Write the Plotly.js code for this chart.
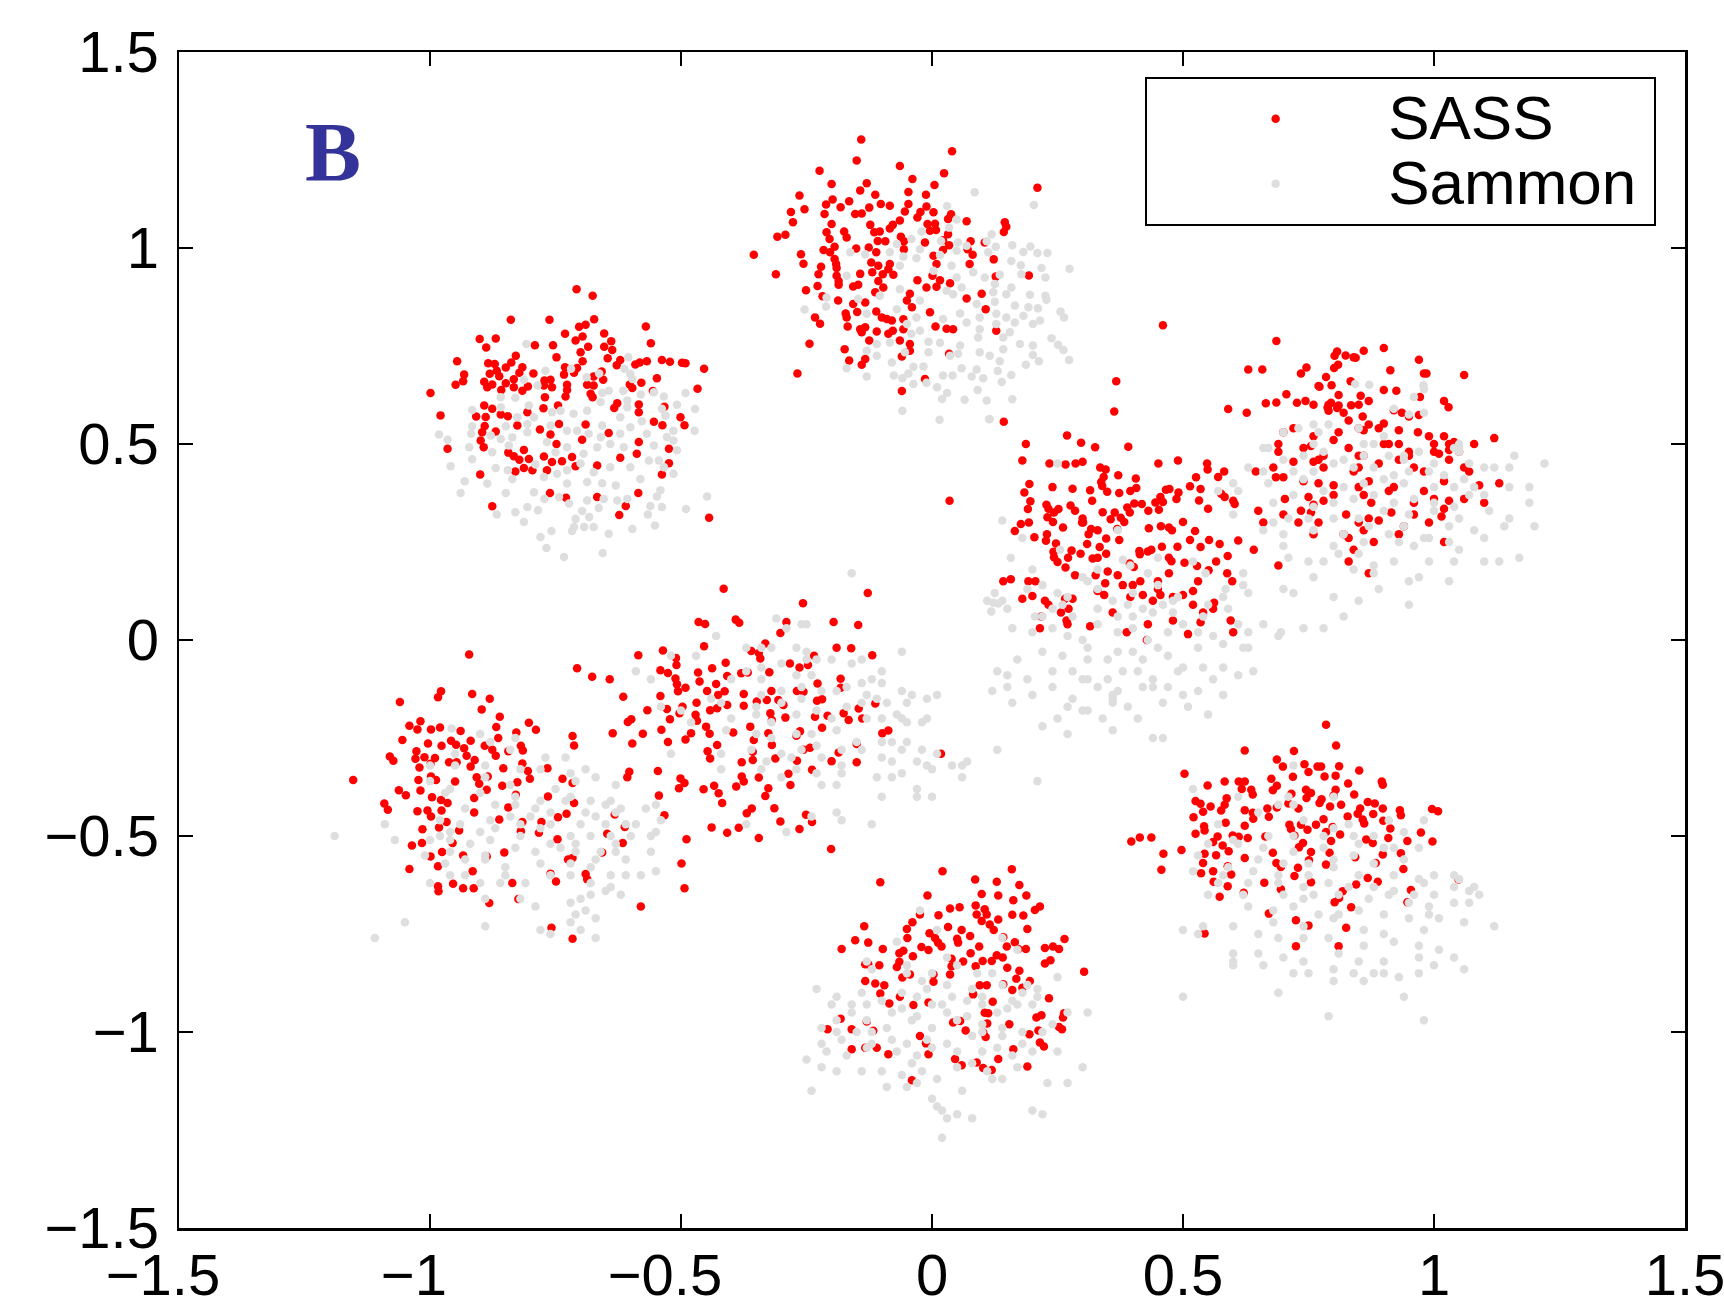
<!DOCTYPE html>
<html><head><meta charset="utf-8"><script src="https://cdn.plot.ly/plotly-3.0.1.min.js"></script>
<style>html,body{margin:0;padding:0;background:#fff;overflow:hidden}</style></head><body><div id="chart"></div>
<script>
const tickValues=[-1.5,-1,-0.5,0,0.5,1,1.5];
const xTickLabels=["\u22121.5\u00A0\u00A0","\u22121\u00A0\u00A0","\u22120.5\u00A0\u00A0","0","0.5","1","1.5"];
const yTickLabels=["\u22121.5","\u22121","\u22120.5","0","0.5","1","1.5"];
const sassUpperLeft=[[-.708,.895],[-.676,.878],[-.839,.817],[-.762,.817],[-.673,.818],[-.69,.804],[-.703,.799],[-.57,.8],[-.731,.781],[-.653,.782],[-.696,.774],[-.901,.768],[-.869,.769],[-.71,.764],[-.639,.762],[-.791,.752],[-.755,.752],[-.888,.746],[-.56,.757],[-.653,.748],[-.685,.748],[-.7,.734],[-.637,.74],[-.829,.725],[-.748,.721],[-.646,.719],[-.946,.711],[-.884,.706],[-.871,.704],[-.838,.708],[-.696,.711],[-.621,.714],[-.628,.701],[-.591,.703],[-.582,.708],[-.568,.711],[-.538,.714],[-.522,.71],[-.498,.707],[-.491,.706],[-.454,.692],[-.849,.695],[-.816,.696],[-.731,.696],[-.707,.694],[-.867,.687],[-.822,.682],[-.881,.679],[-.932,.677],[-.862,.673],[-.794,.68],[-.733,.677],[-.713,.682],[-.658,.685],[-.548,.668],[-.934,.66],[-.892,.659],[-.833,.665],[-.772,.662],[-.76,.664],[-.674,.672],[-.655,.664],[-.949,.651],[-.876,.652],[-.849,.655],[-.805,.647],[-.773,.649],[-.727,.651],[-.687,.651],[-.674,.649],[-.602,.652],[-.579,.656],[-.467,.641],[-.999,.63],[-.886,.645],[-.858,.638],[-.833,.645],[-.816,.636],[-.757,.645],[-.727,.638],[-.597,.643],[-.556,.635],[-.771,.619],[-.73,.621],[-.68,.628],[-.676,.619],[-.892,.598],[-.876,.59],[-.774,.591],[-.745,.598],[-.627,.604],[-.584,.601],[-.533,.595],[-.633,.592],[-.584,.581],[-.979,.573],[-.908,.57],[-.889,.569],[-.859,.575],[-.845,.571],[-.501,.568],[-.806,.581],[-.554,.557],[-.537,.548],[-.493,.548],[-.826,.547],[-.891,.546],[-.743,.551],[-.69,.55],[-.896,.53],[-.869,.532],[-.781,.537],[-.76,.524],[-.644,.528],[-.899,.509],[-.697,.511],[-.748,.5],[-.584,.505],[-.965,.488],[-.893,.492],[-.813,.485],[-.524,.488],[-.844,.478],[-.833,.469],[-.822,.46],[-.803,.462],[-.773,.468],[-.717,.467],[-.757,.454],[-.737,.456],[-.621,.465],[-.588,.475],[-.524,.451],[-.83,.43],[-.813,.439],[-.796,.433],[-.767,.433],[-.71,.443],[-.667,.445],[-.9,.422],[-.538,.422],[-.585,.375],[-.761,.375],[-.729,.363],[-.667,.365],[-.876,.341],[-.61,.342],[-.623,.319],[-.444,.312]];
const sammonUpperLeft=[[-.808,.755],[-.77,.687],[-.813,.664],[-.719,.692],[-.605,.721],[-.613,.692],[-.601,.679],[-.597,.666],[-.688,.67],[-.663,.68],[-.786,.649],[-.859,.619],[-.83,.618],[-.644,.636],[-.657,.63],[-.615,.636],[-.58,.626],[-.554,.632],[-.534,.621],[-.491,.63],[-.508,.6],[-.472,.589],[-.473,.534],[-.531,.573],[-.538,.59],[-.607,.594],[-.859,.594],[-.916,.587],[-.803,.598],[-.74,.585],[-.714,.577],[-.757,.581],[-.687,.585],[-.66,.607],[-.607,.611],[-.657,.547],[-.621,.568],[-.601,.543],[-.578,.558],[-.826,.568],[-.793,.568],[-.76,.547],[-.806,.551],[-.849,.545],[-.916,.545],[-.918,.526],[-.982,.524],[-.965,.511],[-.879,.522],[-.859,.513],[-.836,.517],[-.806,.53],[-.727,.534],[-.707,.534],[-.684,.526],[-.66,.517],[-.621,.526],[-.568,.526],[-.528,.518],[-.515,.534],[-.922,.492],[-.916,.461],[-.959,.443],[-.876,.479],[-.843,.496],[-.767,.505],[-.75,.479],[-.727,.492],[-.694,.475],[-.667,.492],[-.641,.5],[-.614,.492],[-.554,.496],[-.508,.484],[-.515,.509],[-.869,.439],[-.845,.433],[-.79,.448],[-.747,.424],[-.727,.433],[-.7,.45],[-.674,.428],[-.641,.441],[-.601,.441],[-.564,.458],[-.544,.458],[-.534,.441],[-.515,.424],[-.931,.405],[-.939,.375],[-.886,.399],[-.836,.411],[-.773,.416],[-.727,.399],[-.687,.403],[-.657,.4],[-.63,.394],[-.581,.411],[-.541,.382],[-.849,.375],[-.793,.377],[-.772,.36],[-.743,.365],[-.687,.356],[-.654,.36],[-.627,.356],[-.607,.36],[-.548,.366],[-.448,.366],[-.561,.342],[-.538,.339],[-.49,.334],[-.867,.32],[-.83,.326],[-.806,.339],[-.785,.331],[-.723,.348],[-.664,.337],[-.697,.329],[-.566,.32],[-.683,.314],[-.71,.309],[-.813,.301],[-.552,.292],[-.713,.288],[-.693,.288],[-.674,.288],[-.758,.278],[-.78,.263],[-.717,.278],[-.644,.271],[-.597,.283],[-.768,.235],[-.656,.222],[-.733,.212]];
const sassTop=[[-.141,1.277],[.04,1.247],[-.15,1.223],[-.064,1.209],[-.224,1.197],[.024,1.191],[-.039,1.176],[-.2,1.163],[-.13,1.165],[.005,1.161],[.21,1.154],[-.143,1.147],[-.047,1.143],[-.113,1.136],[-.264,1.134],[-.012,1.136],[-.198,1.124],[-.211,1.111],[-.165,1.119],[-.182,1.104],[-.254,1.099],[-.281,1.092],[-.214,1.087],[-.125,1.103],[-.102,1.112],[-.084,1.108],[-.047,1.112],[-.011,1.106],[-.153,1.087],[-.14,1.088],[-.054,1.093],[-.023,1.092],[.003,1.091],[.038,1.086],[-.029,1.078],[-.277,1.066],[-.2,1.061],[-.123,1.059],[-.064,1.07],[.032,1.074],[.069,1.068],[-.078,1.059],[-.084,1.05],[-.009,1.061],[.006,1.062],[.145,1.066],[.148,1.054],[.143,1.041],[-.292,1.034],[-.308,1.029],[-.21,1.04],[-.204,1.023],[-.175,1.042],[-.17,1.027],[-.115,1.04],[-.104,1.042],[-.004,1.044],[.008,1.046],[-.062,1.029],[.032,1.035],[-.108,1.018],[-.093,1.017],[-.056,1.017],[-.014,1.014],[.022,1.02],[.077,1.017],[.105,1.014],[-.216,.995],[-.194,1.003],[-.151,.999],[-.126,1.001],[-.203,.989],[-.111,.989],[-.056,.997],[.034,1.007],[.022,.995],[.071,.997],[-.355,.983],[-.261,.984],[-.194,.972],[.081,.983],[.003,.98],[-.256,.96],[.123,.971],[-.191,.959],[-.121,.963],[-.107,.955],[-.084,.959],[.009,.959],[-.221,.952],[-.19,.949],[-.087,.946],[.075,.959],[-.311,.933],[-.226,.933],[-.143,.934],[-.119,.938],[-.098,.933],[-.077,.932],[-.19,.929],[.001,.929],[.193,.93],[-.186,.916],[-.186,.906],[-.107,.916],[-.029,.918],[.016,.918],[.036,.91],[-.157,.902],[-.147,.906],[-.228,.903],[-.097,.899],[-.011,.899],[.009,.901],[-.251,.892],[.099,.883],[.069,.871],[-.113,.887],[-.044,.883],[-.187,.866],[-.218,.877],[-.133,.861],[-.157,.857],[-.05,.866],[-.149,.837],[-.111,.838],[-.04,.849],[-.172,.833],[-.004,.836],[-.1,.823],[-.09,.819],[-.17,.823],[-.233,.823],[-.223,.807],[-.08,.815],[-.057,.818],[-.168,.8],[-.143,.793],[-.133,.798],[-.14,.785],[-.11,.787],[-.078,.789],[-.057,.793],[.007,.8],[.029,.794],[.042,.793],[-.087,.781],[-.125,.764],[-.244,.756],[-.064,.764],[-.044,.755],[-.174,.742],[-.044,.738],[-.06,.723],[-.165,.713],[-.133,.717],[-.14,.702],[-.268,.68],[-.014,.666],[-.06,.635],[.128,.789],[.127,.927],[.107,.844],[.034,.73]];
const sammonTop=[[.085,1.142],[.203,1.11],[.03,1.107],[.049,1.073],[.034,1.052],[.119,1.035],[-.021,1.042],[-.041,1.023],[.018,1.018],[-.07,1.01],[.052,1.014],[.109,1.017],[.16,1.007],[.196,1.004],[.127,1.003],[.182,.99],[.21,.987],[.23,.987],[-.163,.989],[-.133,.984],[-.084,.989],[-.024,.997],[.016,.982],[.049,.993],[.069,1.006],[.112,.989],[-.057,.978],[-.031,.974],[.039,.955],[.158,.967],[.177,.956],[.218,.949],[.274,.947],[-.17,.929],[-.064,.955],[.003,.942],[.049,.925],[.178,.933],[.226,.925],[.082,.938],[.125,.908],[.135,.932],[.059,.899],[.158,.899],[.105,.925],[-.21,.874],[-.254,.843],[-.211,.851],[-.147,.87],[-.104,.878],[-.064,.895],[.029,.891],[.122,.887],[.148,.882],[.195,.881],[.226,.878],[.228,.868],[-.13,.832],[-.07,.844],[-.024,.866],[.042,.882],[.089,.857],[.125,.863],[.165,.853],[.211,.846],[.192,.849],[.256,.838],[.263,.823],[-.05,.806],[-.031,.823],[.056,.833],[.095,.823],[.128,.832],[.148,.823],[.182,.827],[.215,.815],[.201,.806],[-.024,.789],[.022,.819],[.069,.81],[.095,.793],[.128,.806],[.165,.81],[-.11,.755],[-.084,.759],[-.041,.781],[-.007,.761],[.016,.758],[.056,.751],[.092,.772],[.142,.772],[.155,.785],[.238,.77],[.251,.753],[.262,.74],[-.13,.738],[-.11,.725],[-.054,.734],[-.007,.734],[.052,.73],[.095,.734],[.115,.725],[.142,.742],[.175,.755],[.201,.751],[.201,.727],[.213,.711],[.273,.714],[-.17,.693],[-.08,.708],[-.037,.697],[-.017,.698],[.036,.725],[.135,.711],[.187,.702],[-.13,.672],[-.076,.675],[-.047,.68],[-.059,.668],[.022,.675],[.041,.675],[.059,.693],[.089,.69],[.079,.672],[.131,.686],[.158,.676],[-.037,.653],[-.011,.656],[.102,.668],[.139,.658],[.01,.645],[.091,.638],[.03,.63],[.16,.614],[.02,.615],[.065,.613],[-.059,.585],[.015,.562],[.115,.564]];
const sassMiddleRight=[[.367,.66],[.46,.803],[.143,.557],[.363,.583],[.269,.522],[.297,.503],[.325,.492],[.391,.493],[.187,.5],[.18,.458],[.234,.45],[.266,.448],[.286,.45],[.3,.455],[.335,.44],[.346,.435],[.451,.45],[.49,.458],[.548,.45],[.549,.435],[.342,.416],[.337,.403],[.371,.42],[.406,.412],[.407,.388],[.526,.415],[.57,.416],[.582,.43],[.24,.39],[.194,.398],[.28,.386],[.315,.382],[.339,.393],[.349,.378],[.373,.375],[.395,.38],[.473,.385],[.514,.392],[.491,.376],[.466,.383],[.455,.365],[.46,.352],[.535,.385],[.603,.347],[.184,.376],[.196,.354],[.191,.334],[.177,.296],[.193,.3],[.165,.278],[.23,.313],[.232,.335],[.228,.345],[.243,.325],[.261,.287],[.252,.334],[.276,.343],[.285,.33],[.319,.355],[.34,.326],[.356,.308],[.376,.312],[.389,.338],[.403,.348],[.418,.347],[.431,.33],[.452,.332],[.487,.36],[.445,.351],[.532,.356],[.55,.335],[.576,.373],[.583,.365],[.241,.301],[.299,.3],[.3,.31],[.301,.3],[.317,.283],[.312,.27],[.33,.28],[.369,.283],[.383,.301],[.364,.325],[.394,.325],[.432,.285],[.456,.29],[.472,.287],[.478,.28],[.552,.255],[.524,.278],[.5,.301],[.514,.255],[.573,.245],[.61,.254],[.229,.27],[.247,.246],[.204,.262],[.227,.253],[.242,.225],[.243,.211],[.25,.199],[.278,.228],[.271,.21],[.296,.22],[.32,.208],[.334,.237],[.347,.259],[.347,.22],[.373,.255],[.414,.219],[.413,.227],[.43,.226],[.458,.238],[.489,.238],[.437,.23],[.472,.21],[.477,.201],[.503,.197],[.535,.237],[.528,.189],[.551,.178],[.566,.2],[.589,.214],[.641,.23],[.266,.185],[.285,.165],[.309,.245],[.33,.21],[.394,.195],[.402,.186],[.326,.165],[.345,.145],[.38,.14],[.4,.14],[.35,.175],[.37,.165],[.343,.115],[.395,.11],[.42,.115],[.45,.15],[.472,.17],[.415,.15],[.45,.13],[.48,.11],[.5,.115],[.53,.15],[.52,.125],[.588,.17],[.598,.15],[.206,.15],[.157,.155],[.142,.15],[.192,.15],[.225,.1],[.232,.09],[.218,.06],[.2,.112],[.18,.105],[.33,.125],[.28,.105],[.265,.105],[.272,.08],[.257,.07],[.52,.09],[.54,.07],[.56,.08],[.215,.03],[.27,.04],[.268,.05],[.315,.035],[.36,.07],[.388,.02],[.428,.0],[.48,.05],[.43,.04],[.455,.115],[.44,.1],[.51,.015],[.535,.045],[.562,.095],[.595,.05],[.6,.02],[.035,.355]];
const sammonMiddleRight=[[.114,.563],[.109,.611],[.25,.45],[.14,.305],[.157,.21],[.18,.26],[.3,.16],[.37,.28],[.45,.14],[.57,.38],[.6,.32],[.66,.28],[.62,.17],[.62,.14],[.58,.11],[.545,.17],[.52,.2],[.48,.1],[.45,.21],[.43,.17],[.395,.19],[.38,.205],[.33,.18],[.255,.23],[.2,.18],[.19,.13],[.22,.14],[.25,.12],[.26,.09],[.27,.11],[.31,.15],[.33,.13],[.36,.1],[.39,.09],[.4,.12],[.42,.08],[.46,.09],[.49,.11],[.55,.09],[.585,.13],[.63,.12],[.59,.08],[.54,.06],[.48,.07],[.44,.07],[.4,.06],[.37,.06],[.33,.08],[.28,.06],[.24,.08],[.22,.06],[.205,.06],[.14,.1],[.132,.093],[.122,.095],[.11,.1],[.125,.12],[.15,.08],[.118,.073],[.16,.03],[.2,.02],[.24,.03],[.27,.01],[.3,.0],[.31,-.02],[.33,.04],[.37,.02],[.4,.03],[.43,.0],[.47,.02],[.5,.04],[.53,.02],[.56,.01],[.61,.04],[.63,.02],[.66,.04],[.695,.02],[.69,.01],[.74,.03],[.78,.03],[.7,.13],[.62,-.02],[.63,-.02],[.58,-.01],[.53,-.02],[.47,-.04],[.45,-.02],[.42,-.05],[.4,-.03],[.37,-.03],[.35,-.05],[.31,-.05],[.26,-.04],[.22,-.03],[.17,-.05],[.13,-.08],[.15,-.09],[.19,-.1],[.24,-.08],[.28,-.08],[.31,-.1],[.35,-.1],[.38,-.08],[.41,-.08],[.44,-.1],[.49,-.08],[.5,-.07],[.54,-.07],[.58,-.07],[.61,-.09],[.64,-.08],[.56,-.1],[.12,-.13],[.2,-.14],[.24,-.12],[.28,-.15],[.3,-.1],[.33,-.12],[.37,-.13],[.42,-.12],[.44,-.12],[.47,-.12],[.5,-.14],[.53,-.13],[.15,-.12],[.16,-.16],[.27,-.17],[.31,-.18],[.36,-.15],[.39,-.17],[.41,-.2],[.46,-.16],[.51,-.17],[.55,-.19],[.58,-.14],[.3,-.18],[.34,-.2],[.25,-.2],[.22,-.22],[.36,-.23],[.46,-.25],[.27,-.24],[.13,-.28],[.21,-.36]];
const sassRight=[[.686,.763],[.63,.69],[.658,.69],[.801,.694],[.807,.736],[.86,.738],[.802,.725],[.824,.726],[.84,.721],[.844,.72],[.9,.745],[.97,.715],[.985,.68],[1.06,.676],[.735,.68],[.746,.695],[.785,.671],[.809,.702],[.913,.688],[.98,.68],[.77,.648],[.796,.65],[.834,.66],[.854,.623],[.9,.638],[.925,.636],[.972,.62],[.81,.625],[.772,.646],[.706,.627],[.686,.606],[.665,.604],[.744,.61],[.727,.605],[.59,.589],[.627,.58],[.835,.599],[.795,.605],[.807,.592],[.788,.593],[.76,.6],[.81,.598],[.79,.585],[.79,.6],[.85,.6],[.87,.61],[.92,.586],[.936,.58],[.82,.58],[.858,.57],[.97,.574],[1.02,.61],[1.029,.594],[.87,.55],[.9,.552],[.95,.57],[.83,.56],[.85,.54],[.81,.53],[.86,.535],[.89,.54],[.93,.535],[.968,.53],[.99,.52],[1.04,.505],[.7,.53],[.72,.54],[.76,.52],[.8,.51],[.9,.5],[.91,.5],[.93,.5],[.95,.48],[1.0,.5],[1.02,.52],[1.03,.5],[1.08,.5],[.74,.49],[.755,.495],[.78,.47],[.77,.46],[.83,.49],[.85,.47],[.86,.47],[.89,.45],[.95,.47],[1.0,.48],[1.01,.475],[1.05,.48],[1.03,.46],[1.03,.485],[1.12,.515],[.69,.5],[.69,.48],[.68,.44],[.72,.455],[.76,.455],[.78,.44],[.84,.43],[.85,.44],[.93,.46],[.96,.44],[.98,.43],[1.06,.44],[1.07,.43],[1.09,.395],[.645,.43],[.685,.415],[.7,.415],[.74,.405],[.77,.4],[.8,.395],[.85,.39],[.87,.405],[.92,.39],[.98,.38],[1.0,.36],[1.03,.355],[1.13,.4],[.6,.355],[.75,.365],[.76,.345],[.78,.355],[.8,.37],[.86,.37],[.875,.35],[.91,.38],[.96,.35],[1.02,.405],[1.1,.35],[.703,.36],[.735,.33],[.755,.325],[.825,.32],[.85,.3],[.89,.305],[.915,.325],[.96,.32],[1.02,.335],[1.06,.36],[.65,.33],[.66,.3],[.7,.32],[.73,.3],[.77,.3],[.86,.28],[.87,.31],[.94,.29],[.99,.3],[1.015,.315],[.76,.27],[.82,.27],[.83,.26],[.88,.25],[.93,.27],[1.02,.25],[.84,.23],[.83,.2],[.69,.19],[.87,.17]];
const sammonRight=[[.843,.653],[.871,.651],[.979,.65],[.98,.64],[.92,.59],[.77,.53],[.85,.54],[.88,.5],[1.05,.5],[.96,.62],[.95,.575],[.98,.58],[.76,.55],[.73,.54],[.79,.55],[.7,.53],[.66,.49],[.76,.5],[.86,.5],[.9,.52],[.94,.47],[.97,.48],[1.05,.49],[1.04,.49],[.67,.49],[.7,.46],[.74,.47],[.78,.48],[.82,.46],[.86,.47],[.91,.47],[.94,.46],[1.0,.45],[1.05,.48],[1.22,.45],[1.16,.47],[1.07,.45],[1.12,.44],[1.1,.44],[1.15,.44],[.66,.43],[.63,.44],[.72,.43],[.76,.43],[.8,.45],[.84,.44],[.88,.44],[.92,.42],[.95,.43],[.99,.43],[1.02,.42],[1.06,.41],[.6,.4],[.61,.38],[.67,.4],[.74,.41],[.78,.38],[.82,.39],[.86,.4],[.9,.41],[.94,.4],[1.0,.39],[1.04,.39],[1.08,.39],[1.19,.39],[1.15,.39],[.68,.35],[.72,.37],[.76,.34],[.8,.35],[.84,.36],[.88,.37],[.92,.35],[.96,.36],[1.0,.35],[1.04,.34],[1.07,.37],[1.1,.37],[1.19,.35],[.71,.31],[.75,.31],[.8,.31],[.85,.31],[.9,.33],[.95,.32],[1.0,.33],[1.05,.31],[1.11,.33],[1.15,.31],[1.2,.29],[.76,.28],[.82,.27],[.87,.29],[.91,.27],[.94,.29],[1.03,.29],[1.08,.28],[1.1,.26],[1.14,.29],[.68,.3],[.7,.27],[.93,.25],[.99,.26],[1.03,.25],[1.05,.23],[.7,.24],[.8,.24],[.86,.25],[.96,.24],[.98,.26],[.71,.21],[.75,.2],[.78,.2],[.81,.22],[.85,.22],[.88,.19],[.92,.2],[.99,.2],[1.04,.2],[1.1,.2],[1.13,.2],[1.17,.21],[.76,.16],[.84,.18],[.88,.17],[.95,.15],[.97,.16],[1.03,.15],[.8,.11],[.85,.1],[.89,.13],[.95,.09],[.82,.06],[.72,.12]];
const sassMiddle=[[-.415,.131],[-.128,.12],[-.257,.094],[-.465,.046],[-.452,.041],[-.391,.052],[-.384,.044],[-.29,.046],[-.196,.046],[-.147,.038],[-.302,.018],[-.454,-.016],[-.332,-.009],[-.19,-.02],[-.161,-.021],[-.536,-.027],[-.585,-.039],[-.36,-.028],[-.345,-.033],[-.342,-.047],[-.119,-.039],[-.51,-.046],[-.509,-.064],[-.707,-.072],[-.411,-.058],[-.235,-.04],[-.283,-.06],[-.247,-.064],[-.264,-.07],[-.677,-.094],[-.642,-.1],[-.541,-.077],[-.526,-.084],[-.466,-.083],[-.438,-.072],[-.408,-.092],[-.38,-.085],[-.367,-.083],[-.324,-.082],[-.511,-.098],[-.463,-.106],[-.182,-.099],[-.508,-.113],[-.43,-.112],[-.491,-.122],[-.228,-.111],[-.182,-.122],[-.615,-.145],[-.541,-.143],[-.506,-.131],[-.448,-.13],[-.413,-.131],[-.426,-.14],[-.32,-.13],[-.269,-.13],[-.375,-.138],[-.256,-.132],[-.469,-.16],[-.329,-.153],[-.306,-.153],[-.229,-.155],[-.219,-.151],[-.113,-.162],[-.567,-.179],[-.528,-.176],[-.497,-.17],[-.442,-.179],[-.408,-.166],[-.375,-.168],[-.349,-.157],[-.296,-.166],[-.146,-.175],[-.503,-.187],[-.471,-.191],[-.428,-.174],[-.322,-.187],[-.292,-.198],[-.233,-.196],[-.208,-.193],[-.176,-.187],[-.139,-.2],[-.599,-.202],[-.606,-.209],[-.522,-.202],[-.468,-.206],[-.45,-.221],[-.166,-.204],[-.362,-.221],[-.319,-.204],[-.219,-.224],[-.636,-.238],[-.576,-.239],[-.539,-.229],[-.48,-.238],[-.443,-.239],[-.396,-.236],[-.326,-.238],[-.263,-.233],[-.27,-.244],[-.087,-.231],[-.099,-.238],[-.597,-.264],[-.526,-.26],[-.491,-.254],[-.428,-.268],[-.355,-.255],[-.319,-.268],[-.15,-.265],[-.447,-.284],[-.442,-.302],[-.357,-.306],[-.357,-.285],[-.312,-.302],[-.256,-.28],[-.243,-.275],[-.186,-.287],[-.2,-.309],[-.269,-.308],[-.15,-.312],[-.379,-.312],[-.603,-.336],[-.607,-.35],[-.546,-.334],[-.501,-.353],[-.493,-.365],[-.239,-.331],[-.286,-.341],[-.379,-.348],[-.345,-.351],[-.504,-.378],[-.455,-.381],[-.434,-.372],[-.375,-.361],[-.39,-.374],[-.282,-.37],[-.326,-.378],[-.425,-.391],[-.544,-.397],[-.332,-.398],[-.418,-.416],[-.314,-.429],[-.359,-.43],[-.369,-.442],[-.533,-.447],[-.251,-.446],[-.239,-.464],[-.302,-.463],[-.439,-.478],[-.385,-.479],[-.264,-.482],[-.408,-.492],[-.489,-.508],[-.345,-.505],[-.201,-.533],[-.499,-.57],[-.493,-.633],[.018,-.29]];
const sammonMiddle=[[-.16,.17],[-.31,.055],[-.26,.04],[-.43,.01],[-.29,.03],[-.25,.04],[-.37,-.02],[-.34,-.02],[-.32,-.02],[-.27,-.02],[-.25,-.03],[-.06,-.03],[-.23,-.05],[-.52,-.04],[-.47,-.04],[-.2,-.05],[-.4,-.1],[-.37,-.08],[-.34,-.07],[-.3,-.06],[-.25,-.05],[-.16,-.06],[-.14,-.05],[-.1,-.08],[-.14,-.11],[-.12,-.1],[-.56,-.1],[-.59,-.08],[-.34,-.1],[-.27,-.09],[-.24,-.09],[-.17,-.12],[-.1,-.11],[-.34,-.14],[-.3,-.13],[-.26,-.12],[-.22,-.13],[-.19,-.13],[-.13,-.14],[-.09,-.16],[-.06,-.13],[-.54,-.17],[-.5,-.18],[-.44,-.15],[-.42,-.16],[-.35,-.17],[-.3,-.16],[-.26,-.15],[-.23,-.18],[-.17,-.17],[-.14,-.16],[-.11,-.15],[-.04,-.14],[-.05,-.16],[-.48,-.21],[-.4,-.2],[-.35,-.19],[-.32,-.21],[-.27,-.19],[-.2,-.2],[-.13,-.2],[-.1,-.2],[-.06,-.2],[-.05,-.21],[-.01,-.15],[.01,-.14],[-.07,-.19],[-.35,-.24],[-.41,-.23],[-.32,-.25],[-.27,-.24],[-.24,-.24],[-.19,-.23],[-.15,-.26],[-.1,-.26],[-.01,-.2],[-.02,-.21],[-.42,-.29],[-.36,-.28],[-.3,-.29],[-.26,-.28],[-.23,-.27],[-.18,-.28],[-.14,-.28],[-.08,-.26],[-.05,-.26],[-.06,-.28],[-.02,-.28],[.01,-.29],[-.52,-.29],[-.33,-.31],[-.28,-.3],[-.22,-.3],[-.18,-.32],[-.1,-.3],[-.08,-.31],[-.03,-.31],[-.01,-.32],[.0,-.33],[.04,-.32],[.07,-.31],[.06,-.32],[-.42,-.33],[-.34,-.33],[-.27,-.33],[-.23,-.34],[-.18,-.34],[-.11,-.35],[-.08,-.35],[-.06,-.34],[.06,-.35],[-.3,-.35],[-.22,-.37],[-.19,-.37],[.0,-.4],[-.03,-.38],[-.03,-.4],[-.19,-.44],[-.1,-.4],[-.12,-.47],[-.24,-.45],[-.29,-.49],[-.18,-.46],[-.37,-.47]];
const sassLowerLeft=[[-.922,-.037],[-.978,-.131],[-.984,-.146],[-.916,-.138],[-.881,-.15],[-1.06,-.158],[-.897,-.177],[-.861,-.196],[-1.019,-.207],[-1.041,-.219],[-1.025,-.228],[-.998,-.228],[-.98,-.223],[-.939,-.232],[-.868,-.222],[-.803,-.211],[-.789,-.229],[-.828,-.236],[-.864,-.25],[-1.055,-.255],[-1.004,-.264],[-.977,-.27],[-.958,-.257],[-.948,-.267],[-.932,-.276],[-.919,-.257],[-.891,-.27],[-.876,-.28],[-.869,-.295],[-.819,-.27],[-.815,-.282],[-.844,-.284],[-.716,-.245],[-.713,-.269],[-1.027,-.284],[-1.08,-.297],[-1.073,-.308],[-1.029,-.303],[-1.011,-.299],[-.99,-.301],[-.927,-.295],[-.911,-.306],[-1.021,-.325],[-.999,-.316],[-.962,-.312],[-.947,-.312],[-.919,-.323],[-.816,-.315],[-.854,-.327],[-.766,-.327],[-.805,-.334],[-1.023,-.357],[-.998,-.348],[-.988,-.357],[-.95,-.361],[-.907,-.35],[-.885,-.348],[-.801,-.354],[-.736,-.354],[-.716,-.365],[-1.153,-.357],[-1.062,-.383],[-1.048,-.396],[-1.019,-.384],[-.902,-.367],[-.856,-.372],[-.826,-.363],[-.887,-.382],[-.996,-.401],[-.978,-.408],[-.965,-.416],[-.912,-.403],[-.765,-.399],[-.829,-.395],[-1.091,-.417],[-1.084,-.433],[-1.025,-.437],[-1.005,-.435],[-.998,-.45],[-.977,-.435],[-.844,-.427],[-.713,-.416],[-.728,-.443],[-.745,-.452],[-.632,-.445],[-.912,-.44],[-.967,-.464],[-.862,-.458],[-.816,-.464],[-.778,-.464],[-.612,-.477],[-1.015,-.483],[-.982,-.478],[-.942,-.486],[-.819,-.488],[-.783,-.492],[-.647,-.494],[-.746,-.508],[-1.016,-.518],[-1.036,-.524],[-.616,-.518],[-.955,-.518],[-.976,-.541],[-.934,-.55],[-.852,-.542],[-.999,-.552],[-.887,-.552],[-.716,-.556],[-.725,-.56],[-.657,-.542],[-.984,-.577],[-1.041,-.584],[-.915,-.59],[-.76,-.596],[-.69,-.597],[-.687,-.61],[-.749,-.616],[-.954,-.622],[-.984,-.628],[-.983,-.641],[-.934,-.633],[-.913,-.633],[-.836,-.62],[-.824,-.661],[-.882,-.671],[-.758,-.734],[-.716,-.762],[-.58,-.68]];
const sammonLowerLeft=[[-.957,-.226],[-.9,-.24],[-.73,-.3],[-.69,-.33],[-.83,-.25],[-.88,-.26],[-.95,-.29],[-1,-.32],[-.95,-.32],[-.89,-.32],[-.84,-.28],[-.77,-.3],[-.72,-.34],[-.67,-.35],[-.82,-.33],[-.78,-.33],[-.71,-.36],[-.63,-.37],[-1,-.36],[-.96,-.38],[-.89,-.35],[-.84,-.37],[-.75,-.38],[-.72,-.4],[-.64,-.41],[-.83,-.4],[-.9,-.39],[-.97,-.39],[-.78,-.41],[-.73,-.41],[-.68,-.41],[-.62,-.43],[-.93,-.43],[-.87,-.42],[-.83,-.42],[-.79,-.43],[-.76,-.44],[-.69,-.44],[-.65,-.42],[-.63,-.44],[-.94,-.47],[-.88,-.46],[-.84,-.45],[-.8,-.45],[-.76,-.47],[-.7,-.47],[-.67,-.45],[-.65,-.47],[-.61,-.47],[-.55,-.42],[-.57,-.43],[-.98,-.46],[-.9,-.49],[-.87,-.48],[-.82,-.47],[-.78,-.48],[-.72,-.5],[-.68,-.5],[-.64,-.5],[-.59,-.47],[-.54,-.46],[-.63,-.52],[-.6,-.5],[-.98,-.5],[-.96,-.49],[-1.09,-.47],[-1.19,-.5],[-1.07,-.51],[-1,-.51],[-.96,-.51],[-.88,-.51],[-.82,-.5],[-.76,-.52],[-.71,-.52],[-.66,-.54],[-.63,-.54],[-.56,-.5],[-.55,-.49],[-.96,-.54],[-.92,-.52],[-.89,-.55],[-.83,-.53],[-.79,-.54],[-.74,-.53],[-.71,-.54],[-.67,-.56],[-.61,-.56],[-.56,-.54],[-1.01,-.55],[-.97,-.57],[-.93,-.56],[-.89,-.56],[-.85,-.58],[-.78,-.57],[-.72,-.57],[-.68,-.58],[-.64,-.6],[-.61,-.6],[-.58,-.6],[-.55,-.59],[-1,-.62],[-.96,-.6],[-.93,-.6],[-.9,-.62],[-.85,-.6],[-.81,-.62],[-.76,-.6],[-.72,-.6],[-.68,-.62],[-.64,-.63],[-.89,-.66],[-.86,-.62],[-.82,-.66],[-.72,-.67],[-.7,-.66],[-.68,-.65],[-.65,-.64],[-.62,-.65],[-.79,-.68],[-.71,-.7],[-.69,-.69],[-.67,-.71],[-1.05,-.72],[-.89,-.73],[-.78,-.74],[-.72,-.72],[-.76,-.75],[-.7,-.74],[-.67,-.76],[-1.11,-.76]];
const sassBottom=[[.021,-.59],[-.103,-.618],[.159,-.585],[.086,-.611],[.129,-.617],[.174,-.625],[.099,-.648],[.132,-.652],[.188,-.652],[-.009,-.652],[.162,-.664],[.215,-.68],[.205,-.689],[.036,-.685],[.055,-.682],[.087,-.677],[.105,-.687],[.089,-.7],[.109,-.7],[-.024,-.7],[.013,-.702],[.16,-.701],[.182,-.703],[.099,-.717],[.132,-.713],[-.039,-.72],[-.135,-.73],[.032,-.732],[-.05,-.737],[.059,-.74],[.115,-.726],[.123,-.74],[.19,-.737],[-.005,-.748],[.076,-.755],[.142,-.758],[-.049,-.76],[-.153,-.766],[-.127,-.772],[.006,-.76],[.05,-.762],[.012,-.772],[.052,-.772],[.264,-.763],[.165,-.771],[-.18,-.788],[-.098,-.788],[-.021,-.783],[-.007,-.791],[.019,-.782],[.149,-.782],[.172,-.788],[.187,-.788],[.225,-.786],[.241,-.782],[.253,-.788],[.094,-.782],[-.057,-.793],[-.065,-.799],[.077,-.799],[.129,-.804],[.141,-.81],[-.038,-.807],[-.065,-.821],[.039,-.813],[.062,-.82],[.101,-.819],[.119,-.819],[.236,-.817],[.225,-.825],[-.133,-.827],[-.127,-.827],[-.07,-.834],[-.105,-.83],[.039,-.832],[.087,-.832],[.15,-.836],[-.044,-.853],[.003,-.853],[.036,-.853],[.174,-.844],[.303,-.846],[-.059,-.861],[-.133,-.87],[-.113,-.876],[.168,-.864],[.195,-.87],[-.095,-.881],[.003,-.872],[.095,-.881],[.109,-.881],[.142,-.878],[.18,-.887],[-.103,-.902],[.16,-.893],[.082,-.904],[-.064,-.91],[.233,-.914],[.121,-.923],[-.085,-.927],[-.037,-.931],[-.007,-.925],[.105,-.951],[.112,-.952],[.218,-.957],[.208,-.963],[.263,-.952],[.261,-.963],[-.182,-.966],[-.13,-.973],[.042,-.976],[.056,-.972],[.11,-.978],[.154,-.98],[.253,-.987],[.259,-.993],[-.208,-.993],[-.16,-.993],[-.117,-.997],[.067,-.996],[.212,-.996],[-.024,-1.01],[.102,-1.001],[.107,-1.013],[.194,-1.006],[-.012,-1.029],[.215,-1.027],[.223,-1.037],[-.16,-1.044],[-.133,-1.04],[-.11,-1.04],[-.087,-1.057],[-.007,-1.057],[.162,-1.044],[.046,-1.069],[.089,-1.078],[.132,-1.069],[.059,-1.085],[.19,-1.088],[.102,-1.092],[.119,-1.097],[-.04,-1.123]];
const sammonBottom=[[-.024,-.69],[.01,-.74],[.14,-.76],[-.07,-.77],[.17,-.79],[.03,-.81],[-.12,-.84],[-.05,-.83],[-.13,-.82],[-.05,-.85],[.0,-.85],[.05,-.83],[.09,-.85],[.12,-.85],[.19,-.88],[.25,-.86],[.21,-.89],[-.02,-.87],[.03,-.88],[.08,-.89],[.14,-.88],[.18,-.9],[-.23,-.89],[-.19,-.91],[-.14,-.9],[-.06,-.9],[-.01,-.89],[.04,-.91],[.1,-.91],[.16,-.92],[.21,-.91],[-.2,-.93],[-.16,-.93],[-.13,-.93],[-.1,-.92],[-.08,-.95],[-.03,-.91],[.02,-.93],[.07,-.92],[.1,-.93],[.15,-.94],[-.16,-.95],[-.19,-.97],[-.13,-.97],[-.06,-.94],[-.03,-.96],[.0,-.93],[.03,-.95],[.07,-.96],[.13,-.95],[.17,-.93],[.2,-.93],[.24,-.98],[.31,-.95],[.27,-.95],[-.22,-.99],[-.19,-1.0],[-.15,-1.0],[-.12,-1.0],[-.09,-.99],[-.04,-.97],[.0,-.99],[.05,-.97],[.1,-.98],[.14,-.99],[.18,-1.0],[.22,-1.0],[-.22,-1.03],[-.18,-1.02],[-.12,-1.03],[-.08,-1.02],[-.05,-1.03],[-.01,-1.02],[.03,-1.03],[.08,-1.01],[.1,-1.0],[.14,-1.01],[.18,-1.03],[-.21,-1.05],[-.17,-1.06],[-.13,-1.04],[-.07,-1.05],[-.03,-1.06],[.0,-1.04],[.05,-1.05],[.1,-1.05],[.13,-1.04],[.16,-1.06],[.2,-1.05],[.25,-1.05],[-.25,-1.07],[-.22,-1.09],[-.19,-1.1],[-.14,-1.1],[-.1,-1.1],[-.06,-1.11],[-.04,-1.08],[-.02,-1.1],[.05,-1.09],[.08,-1.08],[.11,-1.1],[.14,-1.12],[.17,-1.09],[.3,-1.09],[-.24,-1.15],[-.09,-1.14],[-.05,-1.14],[-.03,-1.13],[.01,-1.12],[.06,-1.15],[.12,-1.12],[.23,-1.13],[.27,-1.13],[.02,-1.2],[.05,-1.21],[.0,-1.17],[.01,-1.19],[.03,-1.22],[.2,-1.2],[.22,-1.21],[.08,-1.22],[.02,-1.27]];
const sassLowerRight=[[.785,-.216],[.805,-.269],[.623,-.282],[.721,-.283],[.687,-.305],[.742,-.317],[.699,-.323],[.768,-.323],[.775,-.323],[.811,-.322],[.851,-.333],[.503,-.341],[.75,-.337],[.719,-.349],[.782,-.348],[.804,-.346],[.676,-.354],[.583,-.361],[.611,-.361],[.623,-.361],[.829,-.366],[.896,-.361],[.898,-.369],[.549,-.371],[.687,-.372],[.617,-.38],[.636,-.382],[.679,-.383],[.745,-.382],[.804,-.382],[.755,-.39],[.716,-.392],[.841,-.394],[.639,-.394],[.746,-.403],[.8,-.397],[.587,-.404],[.776,-.406],[.525,-.411],[.535,-.418],[.71,-.417],[.772,-.416],[.815,-.42],[.868,-.413],[.882,-.417],[.583,-.42],[.555,-.425],[.576,-.435],[.668,-.43],[.687,-.427],[.793,-.425],[.73,-.43],[.853,-.43],[.898,-.43],[.932,-.434],[.996,-.431],[1.008,-.437],[.54,-.438],[.623,-.434],[.639,-.441],[.848,-.443],[.879,-.444],[.934,-.447],[.521,-.452],[.671,-.451],[.828,-.45],[.78,-.457],[.64,-.456],[.858,-.458],[.899,-.461],[.585,-.466],[.712,-.471],[.735,-.471],[.765,-.471],[.623,-.474],[.542,-.475],[.543,-.486],[.861,-.468],[.913,-.481],[.715,-.482],[.748,-.484],[.798,-.477],[.525,-.494],[.974,-.491],[.569,-.501],[.599,-.499],[.611,-.502],[.664,-.501],[.722,-.499],[.785,-.49],[.813,-.496],[.909,-.505],[.414,-.504],[.437,-.504],[.397,-.514],[.865,-.509],[.878,-.518],[.947,-.513],[.997,-.514],[.56,-.515],[.629,-.505],[.739,-.518],[.795,-.513],[.497,-.536],[.579,-.524],[.591,-.539],[.543,-.545],[.461,-.545],[.566,-.549],[.731,-.529],[.755,-.541],[.679,-.543],[.792,-.543],[.898,-.547],[.934,-.544],[.843,-.554],[.623,-.556],[.589,-.577],[.686,-.569],[.751,-.562],[.785,-.573],[.54,-.569],[.457,-.586],[.695,-.579],[.729,-.581],[.939,-.584],[.884,-.569],[.536,-.595],[.56,-.59],[.596,-.598],[.722,-.602],[.888,-.617],[1.049,-.611],[.561,-.617],[.662,-.619],[.868,-.607],[.755,-.618],[.845,-.624],[.589,-.628],[.621,-.645],[.695,-.636],[.818,-.641],[.573,-.655],[.954,-.638],[.811,-.658],[.947,-.669],[.835,-.682],[.802,-.669],[.725,-.715],[.543,-.749],[.725,-.781],[.81,-.781],[.671,-.698],[.75,-.728],[.825,-.734]];
const sammonLowerRight=[[.36,-.14],[.36,-.16],[.44,-.25],[.72,-.32],[.52,-.38],[.71,-.4],[.61,-.4],[.69,-.42],[.72,-.42],[.8,-.4],[.57,-.47],[.65,-.44],[.74,-.46],[.8,-.48],[.83,-.47],[.91,-.46],[.98,-.46],[.6,-.51],[.67,-.5],[.72,-.5],[.78,-.5],[.84,-.5],[.88,-.5],[.94,-.49],[.55,-.52],[.61,-.52],[.66,-.53],[.72,-.54],[.78,-.53],[.85,-.52],[.9,-.53],[.92,-.53],[.97,-.53],[.53,-.55],[.59,-.58],[.65,-.56],[.7,-.57],[.75,-.57],[.8,-.56],[.84,-.55],[.88,-.57],[.94,-.56],[.52,-.59],[.58,-.6],[.64,-.59],[.69,-.6],[.75,-.6],[.8,-.58],[.85,-.6],[.92,-.6],[.97,-.61],[.98,-.62],[1.0,-.6],[1.04,-.6],[1.05,-.61],[1.08,-.63],[1.09,-.65],[.57,-.62],[.63,-.62],[.69,-.62],[.74,-.63],[.79,-.62],[.83,-.63],[.88,-.63],[.92,-.64],[.96,-.65],[1.0,-.65],[1.04,-.63],[1.07,-.64],[.55,-.65],[.62,-.65],[.7,-.65],[.74,-.66],[.76,-.65],[.81,-.65],[.87,-.66],[.91,-.65],[.95,-.67],[.99,-.68],[1.04,-.67],[1.07,-.67],[.63,-.68],[.68,-.69],[.72,-.68],[.77,-.7],[.81,-.7],[.85,-.69],[.9,-.7],[.95,-.71],[.99,-.7],[1.01,-.71],[.54,-.73],[.5,-.74],[.53,-.75],[.6,-.73],[.68,-.72],[.74,-.73],[.8,-.71],[.86,-.74],[.9,-.75],[.98,-.74],[1.06,-.72],[1.12,-.73],[.65,-.75],[.69,-.76],[.74,-.76],[.79,-.76],[.86,-.78],[.92,-.77],[.97,-.78],[1.01,-.79],[1.04,-.81],[.6,-.8],[.65,-.8],[.7,-.81],[.74,-.82],[.81,-.8],[.85,-.82],[.9,-.82],[.97,-.81],[1.0,-.83],[.6,-.82],[.6,-.83],[.66,-.83],[.72,-.85],[.75,-.85],[.8,-.84],[.84,-.85],[.88,-.85],[.9,-.85],[.93,-.86],[.97,-.85],[1.06,-.84],[.86,-.87],[.8,-.87],[.5,-.91],[.69,-.9],[.94,-.91],[.79,-.96],[.98,-.97]];
const sass=[...sassUpperLeft,...sassTop,...sassMiddleRight,...sassRight,...sassMiddle,...sassLowerLeft,...sassBottom,...sassLowerRight];
const sammon=[...sammonUpperLeft,...sammonTop,...sammonMiddleRight,...sammonRight,...sammonMiddle,...sammonLowerLeft,...sammonBottom,...sammonLowerRight];
const ax={range:[-1.5,1.5],tickmode:'array',ticks:'inside',ticklen:14,tickwidth:2,tickcolor:'#000',mirror:'allticks',showline:true,linecolor:'#000',linewidth:2.5,showgrid:false,zeroline:false,ticklabeloverflow:'allow',tickfont:{family:'Liberation Sans',size:58,color:'#000'}};
const trace=(name,pts,color)=>({type:'scatter',mode:'markers',name,x:pts.map(p=>p[0]),y:pts.map(p=>p[1]),marker:{color,size:8.5,line:{width:0}}});
Plotly.newPlot('chart',[trace('SASS',sass,'#ff0000'),trace('Sammon',sammon,'#dedede')],{
width:1724,height:1306,margin:{l:179,r:39,t:52,b:78},paper_bgcolor:'#fff',plot_bgcolor:'#fff',
xaxis:{...ax,tickvals:tickValues,ticktext:xTickLabels,ticklabelstandoff:-5},
yaxis:{...ax,tickvals:tickValues,ticktext:yTickLabels,ticklabelstandoff:6},
legend:{x:0.6412,y:0.9789,xanchor:'left',yanchor:'top',bgcolor:'#fff',bordercolor:'#000',borderwidth:2.5,font:{family:'Liberation Sans',size:62,color:'#000'},itemwidth:231,entrywidth:262,entrywidthmode:'pixels'},
annotations:[{text:'<b>B</b>',x:-1.194,y:1.243,xref:'x',yref:'y',showarrow:false,xanchor:'center',yanchor:'middle',font:{family:'Liberation Serif',size:84,color:'#333399'}}],
showlegend:true},{displayModeBar:false,staticPlot:true}).then(()=>{
const bg=document.querySelector('.legend .bg');bg.setAttribute('height',147);bg.setAttribute('width',509);
document.querySelectorAll('.legend .traces').forEach((t,i)=>{const m=(t.getAttribute('transform')||'').match(/translate\(([-\d.]+)/);t.setAttribute('transform',`translate(${m?m[1]:0},${42+65*i})`);
const p=t.querySelector('.legendpoints');if(p)p.setAttribute('transform','translate(8,0)');
const tx=t.querySelector('.legendtext');if(tx)tx.setAttribute('y',parseFloat(tx.getAttribute('y')||0)-4);});
const clip=document.querySelector('.legend .scrollbox');if(clip)clip.removeAttribute('clip-path');
});
</script></body></html>
